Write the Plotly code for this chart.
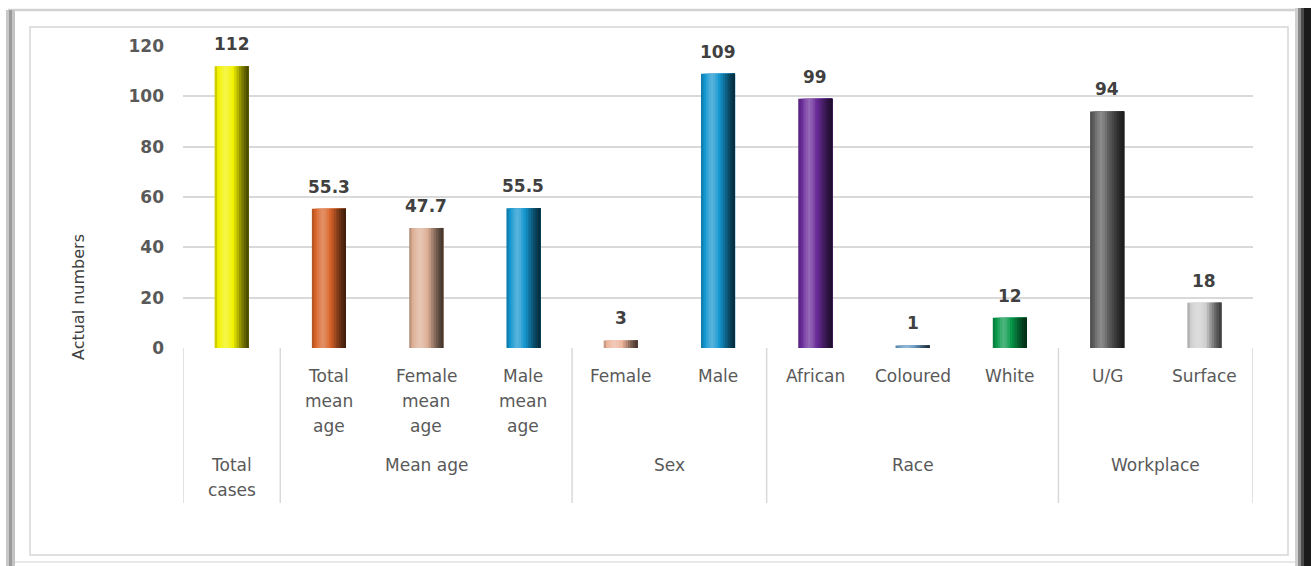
import plotly.graph_objects as go

# ---- data -------------------------------------------------------------
groups = ["Total cases", "Mean age", "Mean age", "Mean age", "Sex", "Sex",
          "Race", "Race", "Race", "Workplace", "Workplace"]
subcats = ["", "Total\nmean\nage", "Female\nmean\nage", "Male\nmean\nage",
           "Female", "Male", "African", "Coloured", "White", "U/G", "Surface"]
values = [112, 55.3, 47.7, 55.5, 3, 109, 99, 1, 12, 94, 18]
bar_colors = ["#F2F200", "#D8642A", "#DDAF95", "#1496CF", "#EDB59C", "#1496CF",
              "#6A2C9A", "#6C9CC4", "#07984A", "#5E5E5E", "#CFCFCF"]
y_ticks = [0, 20, 40, 60, 80, 100, 120]

# ---- geometry helpers (figure pixels -> paper coords) -----------------
W, H = 1311, 566
L, R, T, B = 183, 58, 46, 218
PW, PH = W - L - R, H - T - B


def px(x):
    return (x - L) / PW


def py(y):
    return (H - B - y) / PH


def shade(hex_color, f):
    r, g, b = (int(hex_color[i:i + 2], 16) for i in (1, 3, 5))
    if f >= 0:
        r, g, b = (c + (255 - c) * f for c in (r, g, b))
    else:
        r, g, b = (c * (1 + f) for c in (r, g, b))
    return "#%02x%02x%02x" % tuple(int(round(max(0, min(255, c)))) for c in (r, g, b))


FONT = "DejaVu Sans"
x = list(range(len(values)))
fig = go.Figure()

# cylinder-like bars: overlapping strips, each running to the bar's right edge
bw = 0.35
strip_factors = [-0.15, 0.0, 0.12, 0.22, 0.28, 0.22, 0.12, 0.0,
                 -0.12, -0.25, -0.38, -0.5, -0.6, -0.68]
n = len(strip_factors)
for k, f in enumerate(strip_factors):
    left = -bw / 2 + bw * k / n
    fig.add_trace(go.Bar(
        x=x, y=values,
        width=bw / 2 - left, offset=left,
        marker=dict(color=[shade(c, f) for c in bar_colors], line=dict(width=0)),
        hoverinfo="skip", showlegend=False,
    ))

# value labels above bars
for xi, v in zip(x, values):
    fig.add_annotation(x=xi, y=v, text=f"{v:g}", showarrow=False,
                       xanchor="center", yanchor="middle", yshift=22,
                       font=dict(family=FONT, size=17, color="#404040", weight="bold"))

# category labels (sub level)
for xi, s in zip(x, subcats):
    for j, line in enumerate(s.split("\n")):
        if line:
            fig.add_annotation(x=xi, xref="x", y=py(376 + 25 * j), yref="paper",
                               text=line, showarrow=False,
                               xanchor="center", yanchor="middle",
                               font=dict(family=FONT, size=17, color="#595959"))

# group labels and dividers
spans = []
start = 0
for i in range(1, len(groups) + 1):
    if i == len(groups) or groups[i] != groups[start]:
        spans.append((groups[start], start, i - 1))
        start = i
for name, a, b in spans:
    words = name.split(" ") if a == b else [name]
    for j, line in enumerate(words):
        fig.add_annotation(x=(a + b) / 2, xref="x", y=py(465 + 25 * j), yref="paper",
                           text=line, showarrow=False,
                           xanchor="center", yanchor="middle",
                           font=dict(family=FONT, size=17, color="#595959"))
div_x = [-0.5] + [b + 0.5 for _, _, b in spans]
for dx in div_x:
    fig.add_shape(type="line", xref="x", yref="paper", x0=dx, x1=dx,
                  y0=0, y1=py(503), line=dict(color="#D9D9D9", width=1.5))

# y-axis title
fig.add_annotation(x=px(78), xref="paper", y=py(297), yref="paper",
                   text="Actual numbers", textangle=-90, showarrow=False,
                   xanchor="center", yanchor="middle",
                   font=dict(family=FONT, size=16, color="#404040"))

# frame: inner border, outer edges and right shadow
fig.add_shape(type="rect", xref="paper", yref="paper", layer="below",
              x0=px(30), x1=px(1288), y0=py(555), y1=py(27),
              line=dict(color="#D6D6D6", width=1.5))
fig.add_shape(type="line", xref="paper", yref="paper", layer="below",
              x0=px(8), x1=px(1298), y0=py(10), y1=py(10),
              line=dict(color="#D2D2D2", width=2.5))
fig.add_shape(type="line", xref="paper", yref="paper", layer="below",
              x0=px(8), x1=px(1298), y0=py(562), y1=py(562),
              line=dict(color="#E0E0E0", width=1.5))
for x0, x1, col in [(6, 9, "#C8C8C8"), (9, 12, "#9A9A9A"), (12, 15, "#C4C4C4")]:
    fig.add_shape(type="rect", xref="paper", yref="paper", layer="below",
                  x0=px(x0), x1=px(x1), y0=py(566), y1=py(10),
                  fillcolor=col, line=dict(width=0))
for x0, x1, col in [(1295, 1298, "#D0D0D0"), (1298, 1301, "#8A8A8A"),
                    (1301, 1304, "#4A4A4A"), (1304, 1311, "#1A1A1A")]:
    fig.add_shape(type="rect", xref="paper", yref="paper", layer="below",
                  x0=px(x0), x1=px(x1), y0=py(566), y1=py(8),
                  fillcolor=col, line=dict(width=0))

fig.update_layout(
    width=W, height=H,
    margin=dict(l=L, r=R, t=T, b=B),
    barmode="overlay",
    paper_bgcolor="white", plot_bgcolor="white",
    font=dict(family=FONT),
    xaxis=dict(range=[-0.5, len(values) - 0.5], showticklabels=False,
               showgrid=False, zeroline=False, showline=False, fixedrange=True),
    yaxis=dict(range=[0, 120], tickvals=y_ticks, showgrid=True,
               gridcolor="#D9D9D9", gridwidth=1.5, zeroline=False, showline=False,
               ticks="", ticklabelstandoff=18,
               tickfont=dict(family=FONT, size=17, color="#595959", weight="bold"),
               fixedrange=True),
)

fig.write_html("out.html")
